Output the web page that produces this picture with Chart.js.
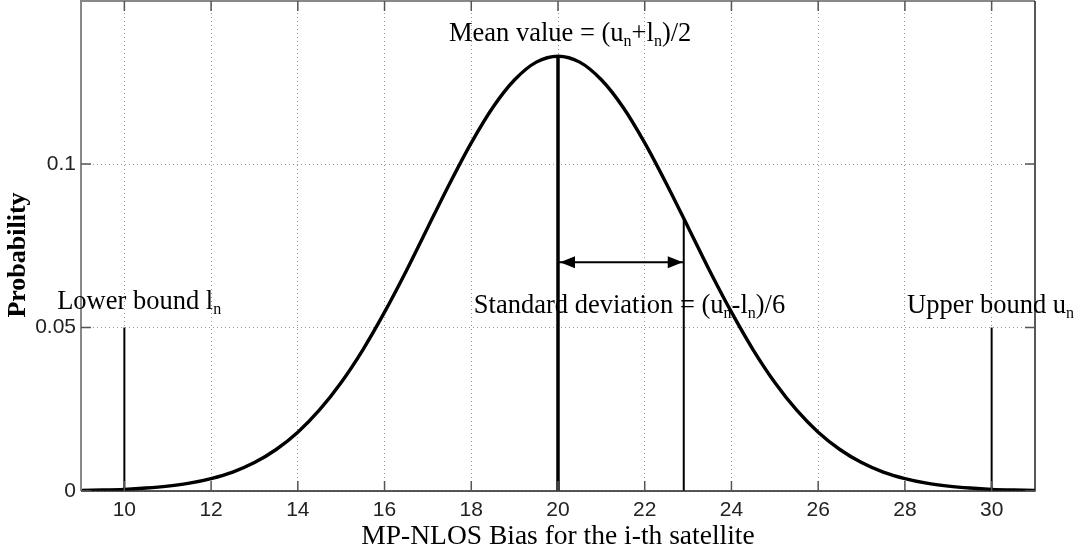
<!DOCTYPE html>
<html>
<head>
<meta charset="utf-8">
<script src="https://cdn.jsdelivr.net/npm/chart.js@4.4.0/dist/chart.umd.min.js"></script>
<style>
  html, body { margin: 0; padding: 0; background: #fff; }
</style>
</head>
<body>
<canvas id="myChart" width="1080" height="554"></canvas>
<script>
// Curve (bias value -> probability)
const biasX = [9, 9.5, 10, 10.5, 11, 11.5, 12, 12.5, 13, 13.5, 14, 14.5, 15, 15.5, 16, 16.5, 17, 17.5, 18, 18.5, 19, 19.5, 20,
    20.5, 21, 21.5, 22, 22.5, 23, 23.5, 24, 24.5, 25, 25.5, 26, 26.5, 27, 27.5, 28, 28.5, 29, 29.5, 30, 30.5, 31];
const probability = [0.0002, 0.0003, 0.0005, 0.0009, 0.0015, 0.0024, 0.0038, 0.0058, 0.0087, 0.0127, 0.018, 0.0248,
    0.0332, 0.0432, 0.0547, 0.0673, 0.0807, 0.094, 0.1065, 0.1174, 0.1258, 0.1312, 0.133,
    0.1312, 0.1258, 0.1174, 0.1065, 0.094, 0.0807, 0.0673, 0.0547, 0.0432, 0.0332, 0.0248, 0.018, 0.0127,
    0.0087, 0.0058, 0.0038, 0.0024, 0.0015, 0.0009, 0.0005, 0.0003, 0.0002];

const xTicks = [10, 12, 14, 16, 18, 20, 22, 24, 26, 28, 30];
const yTicks = [0, 0.05, 0.1];
const yTickLabels = ['0', '0.05', '0.1'];

// Marker lines
const boundX = [10, 30];
const boundTop = 0.05;
const meanX = 20;
const meanTop = 0.133;
const sdX = 22.9;
const sdTop = 0.0835;
const arrowY = 0.07;

const serif = "'Liberation Serif', 'Times New Roman', serif";
const sans = "'Liberation Sans', Arial, sans-serif";

function seg(x0, y0, x1, y1, width) {
    return {
        data: [{ x: x0, y: y0 }, { x: x1, y: y1 }],
        showLine: true,
        borderColor: '#000',
        borderWidth: width,
        pointRadius: 0,
        tension: 0
    };
}

// draws text with "n" subscripts, parts = [[text, isSub], ...]
function drawRich(ctx, parts, x, y, size, align) {
    const subSize = Math.round(size * 0.6);
    let total = 0;
    for (let p of parts) {
        ctx.font = (p[1] ? subSize : size) + 'px ' + serif;
        total += ctx.measureText(p[0]).width;
    }
    let cx = align === 'center' ? x - total / 2 : x;
    ctx.textAlign = 'left';
    ctx.textBaseline = 'alphabetic';
    for (let p of parts) {
        ctx.font = (p[1] ? subSize : size) + 'px ' + serif;
        ctx.fillText(p[0], cx, p[1] ? y + 5 : y);
        cx += ctx.measureText(p[0]).width;
    }
}

const framePlugin = {
    id: 'frame',
    afterDatasetsDraw(chart) {
        const { ctx, scales: { x, y } } = chart;
        // arrowheads on the std deviation arrow
        const ay = y.getPixelForValue(arrowY);
        const l = x.getPixelForValue(meanX) + 2;
        const r = x.getPixelForValue(sdX) - 1;
        ctx.save();
        ctx.fillStyle = '#000';
        ctx.beginPath();
        ctx.moveTo(l, ay); ctx.lineTo(l + 15, ay - 6); ctx.lineTo(l + 15, ay + 6); ctx.closePath();
        ctx.fill();
        ctx.beginPath();
        ctx.moveTo(r, ay); ctx.lineTo(r - 15, ay - 6); ctx.lineTo(r - 15, ay + 6); ctx.closePath();
        ctx.fill();
        ctx.restore();
    },
    afterDraw(chart) {
        const { ctx, chartArea: a, scales: { x, y } } = chart;
        ctx.save();
        // box
        ctx.lineWidth = 2;
        ctx.strokeStyle = '#888';
        ctx.beginPath();
        ctx.moveTo(a.left, a.bottom); ctx.lineTo(a.left, a.top); ctx.lineTo(a.right, a.top);
        ctx.stroke();
        ctx.strokeStyle = '#222';
        ctx.lineWidth = 1.5;
        ctx.beginPath();
        ctx.moveTo(a.right, a.top); ctx.lineTo(a.right, a.bottom); ctx.lineTo(a.left, a.bottom);
        ctx.stroke();
        // inner ticks
        ctx.lineWidth = 1.5;
        ctx.strokeStyle = '#555';
        ctx.beginPath();
        for (let v of xTicks) {
            const px = x.getPixelForValue(v);
            ctx.moveTo(px, a.bottom); ctx.lineTo(px, a.bottom - 10);
            ctx.moveTo(px, a.top); ctx.lineTo(px, a.top + 10);
        }
        for (let v of yTicks) {
            const py = y.getPixelForValue(v);
            ctx.moveTo(a.left, py); ctx.lineTo(a.left + 10, py);
            ctx.moveTo(a.right, py); ctx.lineTo(a.right - 10, py);
        }
        ctx.stroke();

        // annotations
        ctx.fillStyle = '#000';
        drawRich(ctx, [['Mean value = (u', 0], ['n', 1], ['+l', 0], ['n', 1], [')/2', 0]],
            x.getPixelForValue(20.28), y.getPixelForValue(0.1376), 26.5, 'center');
        drawRich(ctx, [['Lower bound l', 0], ['n', 1]],
            x.getPixelForValue(8.45), y.getPixelForValue(0.0557), 26.5, 'left');
        drawRich(ctx, [['Standard deviation = (u', 0], ['n', 1], ['-l', 0], ['n', 1], [')/6', 0]],
            x.getPixelForValue(18.06), y.getPixelForValue(0.0544), 26.5, 'left');
        drawRich(ctx, [['Upper bound u', 0], ['n', 1]],
            x.getPixelForValue(28.05), y.getPixelForValue(0.0544), 26.5, 'left');

        // axis titles
        ctx.textAlign = 'center';
        ctx.textBaseline = 'middle';
        ctx.font = '27.5px ' + serif;
        ctx.fillText('MP-NLOS Bias for the i-th satellite', (a.left + a.right) / 2, 537);
        ctx.translate(18, 255);
        ctx.rotate(-Math.PI / 2);
        ctx.font = 'bold 26px ' + serif;
        ctx.fillText('Probability', 0, 0);
        ctx.restore();
    }
};

const ctx = document.getElementById('myChart');
let myChart = new Chart(ctx, {
    type: 'scatter',
    data: {
        datasets: [
            {
                data: biasX.map((v, i) => ({ x: v, y: probability[i] })),
                showLine: true,
                borderColor: '#000',
                borderWidth: 3.4,
                pointRadius: 0,
                tension: 0.3
            },
            seg(boundX[0], 0, boundX[0], boundTop, 2),
            seg(boundX[1], 0, boundX[1], boundTop, 2),
            seg(meanX, 0, meanX, meanTop, 3.5),
            seg(sdX, 0, sdX, sdTop, 2),
            seg(meanX, arrowY, sdX, arrowY, 2)
        ]
    },
    options: {
        responsive: false,
        animation: false,
        devicePixelRatio: 1,
        layout: { padding: { top: 1, right: 45, left: 0, bottom: 0 } },
        plugins: {
            legend: { display: false },
            tooltip: { enabled: false }
        },
        scales: {
            x: {
                type: 'linear',
                min: 9,
                max: 31,
                afterBuildTicks: (scale) => { scale.ticks = xTicks.map(v => ({ value: v })); },
                afterFit: (scale) => { scale.height = 63; scale.paddingLeft = 0; scale.paddingRight = 0; },
                ticks: {
                    padding: 7,
                    color: '#222',
                    font: { family: sans, size: 21 },
                    maxRotation: 0,
                    autoSkip: false
                },
                grid: { color: '#999', lineWidth: 1, drawTicks: false },
                border: { display: false, dash: [1, 3] }
            },
            y: {
                type: 'linear',
                min: 0,
                max: 0.1499,
                afterBuildTicks: (scale) => { scale.ticks = yTicks.map(v => ({ value: v })); },
                afterFit: (scale) => { scale.width = 81; scale.paddingTop = 0; scale.paddingBottom = 0; },
                ticks: {
                    padding: 5,
                    color: '#222',
                    font: { family: sans, size: 21 },
                    callback: (v) => yTickLabels[yTicks.indexOf(v)] ?? ''
                },
                grid: { color: '#999', lineWidth: 1, drawTicks: false },
                border: { display: false, dash: [1, 3] }
            }
        }
    },
    plugins: [framePlugin]
});
</script>
</body>
</html>
